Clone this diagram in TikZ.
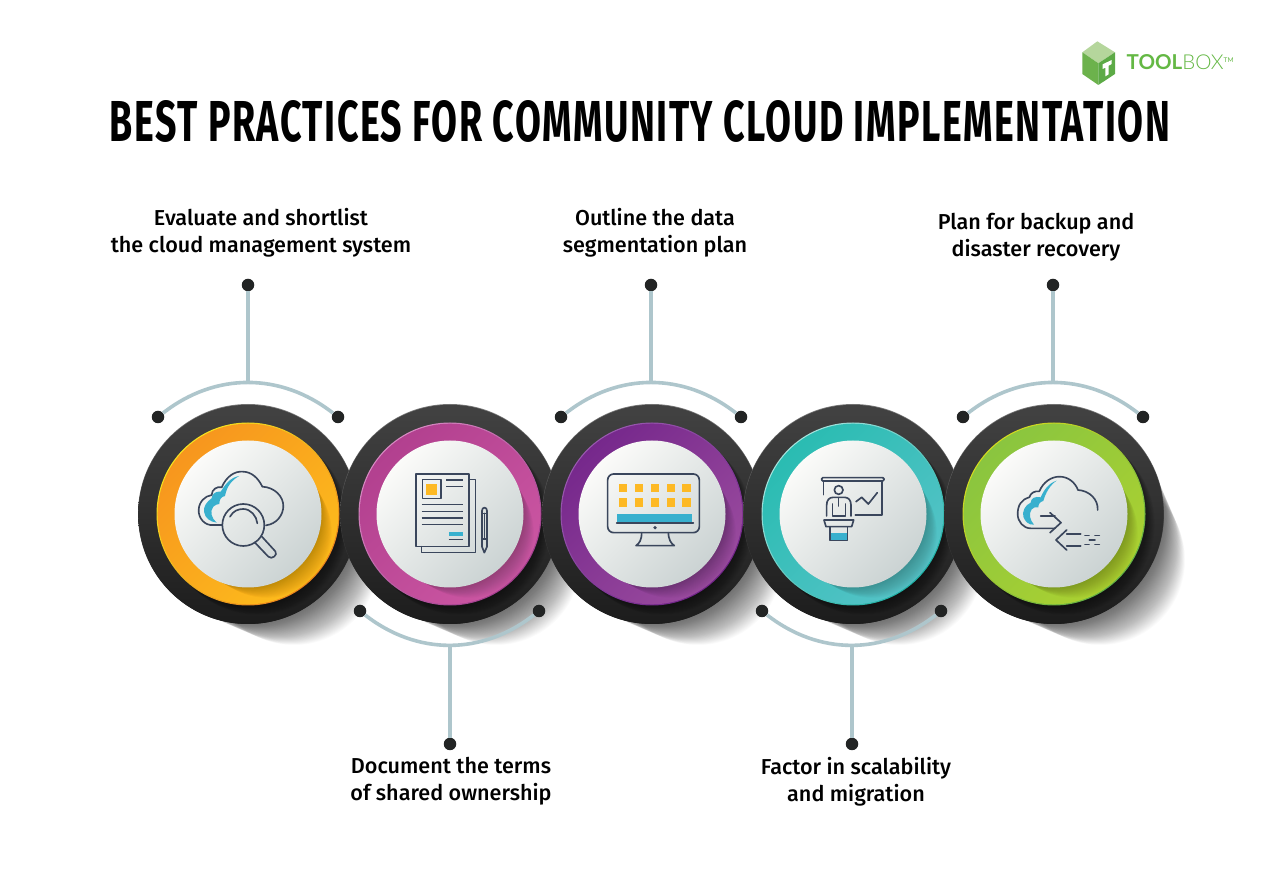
\documentclass[tikz,border=0pt]{standalone}
\usepackage{fontspec}
\usepackage{graphicx}
\setmainfont{Liberation Sans}
\newfontfamily\titlefont[UprightFont=* Bold,LetterSpace=4]{Fira Sans}
\newfontfamily\labfont[UprightFont=* Medium]{Fira Sans}
\newfontfamily\logoB[UprightFont=* Bold]{Lato}
\newfontfamily\logoL[UprightFont=* Light]{Lato}
\newfontfamily\logoR{Lato}
\definecolor{stem}{HTML}{AEC6CC}
\definecolor{dotc}{HTML}{222424}
\definecolor{navy}{HTML}{3A465C}
\definecolor{cyanb}{HTML}{38B0CE}
\definecolor{yel}{HTML}{FDB924}
\definecolor{facea}{HTML}{FBFBF9}
\definecolor{faceb}{HTML}{CBD3D3}
\definecolor{ora}{HTML}{F7961E}\definecolor{orb}{HTML}{FDBC1C}\definecolor{orr}{HTML}{F5E61E}\definecolor{ors}{HTML}{E8801E}
\definecolor{pka}{HTML}{B2408F}\definecolor{pkb}{HTML}{CB56A2}\definecolor{pkr}{HTML}{D98CC4}\definecolor{pks}{HTML}{A03C8C}
\definecolor{pua}{HTML}{76288C}\definecolor{pub}{HTML}{9A4B9E}\definecolor{pur}{HTML}{9A5AB0}\definecolor{pus}{HTML}{702488}
\definecolor{tea}{HTML}{2ABCB2}\definecolor{teb}{HTML}{55C3C7}\definecolor{ter}{HTML}{A8E4DE}\definecolor{tes}{HTML}{1EAFA4}
\definecolor{gra}{HTML}{8AC53F}\definecolor{grb}{HTML}{ABD131}\definecolor{grr}{HTML}{D6DC1E}\definecolor{grs}{HTML}{5FAE46}
\tikzset{
  knob/.style={circle,inner sep=0pt,minimum size=12.5pt,fill=dotc},
  stemline/.style={draw=stem,line width=3.6pt},
  lab/.style={font=\labfont\fontsize{21.6}{27}\selectfont,align=center,text=black,inner sep=0pt},
  ico/.style={draw=navy,line width=1.65pt,line cap=round,line join=round},
  izoom/.style={x=.33333pt,y=-.33333pt}
}
\begin{document}
\begin{tikzpicture}[x=1pt,y=1pt]
\useasboundingbox (0,0) rectangle (1280,884);
\fill[white] (0,0) rectangle (1280,884);
% title
\node[inner sep=0pt,text=black] (title) at (640,763) {\resizebox{1060pt}{41pt}{\titlefont BEST PRACTICES FOR COMMUNITY CLOUD IMPLEMENTATION}};
% logo
\begin{scope}[shift={(1070,854)},izoom]
\fill[color={rgb,255:red,181;green,214;blue,156}] (82,34) -- (135,67) -- (85,100) -- (37,67) -- cycle;
\fill[color={rgb,255:red,108;green,178;blue,76}] (37,67) -- (85,100) -- (85,165) -- (37,132) -- cycle;
\fill[color={rgb,255:red,92;green,170;blue,70}] (85,100) -- (135,67) -- (135,132) -- (85,165) -- cycle;
\fill[white] (98,103) -- (125,90) -- (125,102) -- (116,107) -- (116,133) -- (106,139) -- (106,113) -- (98,117) -- cycle;
\end{scope}
\node[inner sep=0pt,anchor=west,text={rgb,255:red,100;green,184;blue,68}] (logo) at (1126.5,822) {\fontsize{20.5}{22}\selectfont{\logoB TOOL}{\logoL BOX}\raisebox{7pt}{\fontsize{6.5}{6.5}\selectfont\logoR TM}};
% cast shadows
\foreach \x in {248,450,652,853,1054}{
  \foreach \s in {1,...,44}
    \fill[black,opacity=.015] (\x+\s*1.05,370-\s*1.05) circle ({109-\s*.55});
}
% knobs
\foreach \x/\n/\a/\b/\r/\e in {248/1/ora/orb/orr/ors,450/2/pka/pkb/pkr/pks,652/3/pua/pub/pur/pus,853/4/tea/teb/ter/tes,1054/5/gra/grb/grr/grs}{
  \shade[top color=black!52,middle color=black!84,bottom color=black!90] (\x,370) circle (110);
  \node[circle,inner sep=0pt,minimum size=219.2pt,top color=black!74,bottom color=black!89] (disc\n) at (\x,369.6) {};
  \begin{scope}
    \clip (\x,370) circle (110);
    \foreach \s in {1,...,12}
      \fill[black,opacity=.04] (\x+\s*.8,370-\s*.8) circle (91);
  \end{scope}
  \shade[top color=\r,bottom color=\e,shading angle=45] (\x,370) circle (91.5);
  \node[circle,inner sep=0pt,minimum size=180.6pt,top color=\a,bottom color=\b,shading angle=45] (ring\n) at (\x,370) {};
  \begin{scope}
    \clip (\x,370) circle (90.3);
    \foreach \s in {1,...,20}
      \fill[black,opacity=.013] (\x+\s*.95,370-\s*.95) circle ({73-\s*.4});
  \end{scope}
  \node[circle,inner sep=0pt,minimum size=147pt,top color=facea,bottom color=faceb,shading angle=45] (face\n) at (\x,370) {};
}
% connectors top
\foreach \x/\n in {248/1,651/3,1053/5}{
  \node[knob] (tl\n) at (\x-90,467) {};
  \node[knob] (tr\n) at (\x+90,467) {};
  \node[knob] (ts\n) at (\x,599) {};
  \coordinate (tm\n) at (\x,502);
  \draw[stemline] (tl\n) to[bend left=38] (tr\n);
  \draw[stemline] (ts\n) -- (tm\n);
}
\foreach \x/\n in {450/2,852/4}{
  \node[knob] (bl\n) at (\x-90,273) {};
  \node[knob] (br\n) at (\x+89,273) {};
  \node[knob] (bs\n) at (\x,140) {};
  \coordinate (bm\n) at (\x,237);
  \draw[stemline] (bl\n) to[bend right=38] (br\n);
  \draw[stemline] (bs\n) -- (bm\n);
}
% labels
\node[lab] (l1) at (261,651) {Evaluate and shortlist\\the cloud management system};
\node[lab] (l3) at (655,651) {Outline the data\\segmentation plan};
\node[lab] (l5) at (1036,646.5) {Plan for backup and\\disaster recovery};
\node[lab] (l2) at (451,102.5) {Document the terms\\ of shared ownership};
\node[lab] (l4) at (856,102.5) {Factor in scalability\\and migration};
% icon 1
\begin{scope}[shift={(130,514)},izoom]
\fill[cyanb] (328,318) .. controls (300,322) and (285,345) .. (272,365) .. controls (255,362) and (245,375) .. (245,385) .. controls (230,395) and (220,410) .. (222,425) .. controls (225,445) and (240,455) .. (260,458) .. controls (245,445) and (238,425) .. (250,410) .. controls (255,405) and (262,402) .. (268,402) .. controls (268,390) and (272,380) .. (285,378) .. controls (290,350) and (305,330) .. (328,318) -- cycle;
\draw[ico] (276,465) -- (250,465) .. controls (225,468) and (205,445) .. (206,420) .. controls (207,395) and (225,378) .. (245,375) .. controls (245,358) and (262,348) .. (275,352) .. controls (290,318) and (315,303) .. (338,305) .. controls (365,305) and (385,325) .. (397,350) .. controls (435,352) and (460,380) .. (460,408) .. controls (460,435) and (440,462) .. (408,466);
\draw[ico] (340,465) circle (63);
\draw[ico] (300,440) .. controls (310,422) and (325,417) .. (340,417) .. controls (362,417) and (380,438) .. (382,460);
\draw[ico] (374,517) -- (415,560) .. controls (425,570) and (445,555) .. (436,544) -- (394,498);
% icon 2
\fill[yel] (889,342) rectangle (921,374);
\fill[cyanb] (956,485) rectangle (999,498);
\draw[ico] (1018,329) -- (1036,329) -- (1036,548) -- (875,548) -- (875,530);
\draw[ico,line cap=butt] (858,312) rectangle (1017,530);
\draw[ico,line cap=butt] (877,328) rectangle (933,386);
\foreach \ya/\xa in {330/948,350/948,404/875,424/875,444/875,464/875,508/956}
  \draw[ico,line cap=butt] (\xa,\ya) -- (999,\ya);
\draw[ico] (1056,422) .. controls (1056,410) and (1071,410) .. (1071,422) -- (1071,530) -- (1063,548) -- (1056,530) -- cycle;
\draw[ico] (1056,430) -- (1071,430) (1056,507) -- (1071,507) (1063,430) -- (1063,507);
\end{scope}
% icon 3 and 4
\begin{scope}[shift={(540,514)},izoom]
\foreach \xa in {237,285,332,380,427}
  \foreach \ya in {342,385}
    \fill[yel] (\xa,\ya) rectangle ++(25,25);
\fill[cyanb] (232,433) rectangle (457,456);
\draw[ico,rounded corners=6pt] (203,312) rectangle (478,488);
\draw[ico] (230,459) -- (460,459);
\fill[navy] (345,473) circle (5.5);
\draw[ico] (305,488) .. controls (305,510) and (298,520) .. (288,527) -- (403,527) .. controls (393,520) and (386,510) .. (385,488);
% icon 4
\fill[cyanb] (870,490) rectangle (922,512);
\draw[ico,rounded corners=1.2pt] (845,323) rectangle (1032,333);
\draw[ico] (851,333) -- (851,374);
\draw[ico] (1026,333) -- (1026,435) -- (946,435);
\draw[ico] (896,360) circle (13);
\draw[ico] (860,438) -- (860,405) .. controls (860,390) and (868,382) .. (880,382) -- (913,382) .. controls (925,382) and (933,390) .. (933,405) -- (933,438);
\draw[ico] (877,402) -- (877,438) -- (916,438) -- (916,402);
\draw[ico] (896,385) -- (896,408);
\draw[ico] (852,450) -- (941,450) -- (935,470) -- (858,470) -- cycle;
\draw[ico,line cap=butt] (870,470) -- (870,512) -- (922,512) -- (922,470);
\draw[ico] (948,395) -- (965,382) -- (985,402) -- (1012,368);
\end{scope}
% icon 5
\begin{scope}[shift={(940,514)},izoom]
\fill[cyanb] (350,332) .. controls (325,340) and (312,360) .. (302,382) .. controls (285,378) and (272,385) .. (272,398) .. controls (255,405) and (246,425) .. (250,440) .. controls (255,455) and (265,465) .. (282,464) .. controls (270,450) and (265,432) .. (275,418) .. controls (280,412) and (288,410) .. (295,412) .. controls (295,402) and (300,395) .. (310,393) .. controls (316,370) and (330,345) .. (350,332) -- cycle;
\draw[ico] (345,475) -- (272,475) .. controls (250,475) and (233,455) .. (233,432) .. controls (233,405) and (245,388) .. (268,382) .. controls (272,368) and (285,362) .. (298,364) .. controls (310,335) and (335,320) .. (358,320) .. controls (385,320) and (405,337) .. (414,360) .. controls (448,362) and (475,388) .. (473,420);
\draw[ico] (302,438) -- (345,438);
\draw[ico] (330,428) -- (363,458) -- (330,488);
\draw[ico] (380,480) -- (348,510) -- (380,540);
\draw[ico] (380,492) -- (422,492) (380,528) -- (422,528);
\draw[ico] (435,497) -- (447,497) (465,497) -- (478,497) (448,510) -- (465,510) (435,523) -- (447,523) (465,523) -- (478,523);
\end{scope}
\end{tikzpicture}
\end{document}
